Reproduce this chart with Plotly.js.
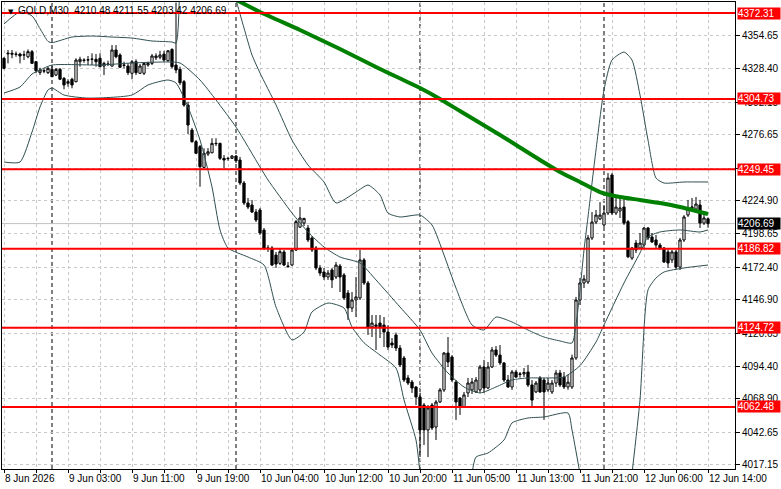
<!DOCTYPE html>
<html><head><meta charset="utf-8">
<script src="https://cdn.plot.ly/plotly-3.0.1.min.js"></script>
<style>html,body{margin:0;padding:0;background:#fff;overflow:hidden}#chart{width:781px;height:489px}</style>
</head><body><div id="chart"></div>
<script>
// ---------- data ----------
const chartTitle = "GOLD,M30  4210.48 4211.55 4203.42 4206.69";
const openP = [4336.7,4340.8,4340.6,4340.0,4340.0,4339.3,4337.9,4341.9,4334.0,4325.4,4326.9,4325.4,4328.0,4323.5,4328.0,4320.9,4317.0,4320.2,4318.3,4334.0,
4335.3,4335.3,4335.9,4335.9,4336.7,4330.6,4332.2,4330.6,4343.2,4339.3,4331.4,4330.6,4324.9,4334.0,4324.9,4324.9,4331.4,4332.7,4337.1,4337.5,
4340.0,4334.8,4343.7,4331.4,4328.0,4318.3,4299.9,4280.3,4271.1,4267.2,4250.9,4261.4,4262.4,4269.8,4269.8,4258.0,4258.0,4258.0,4259.8,4256.7,
4238.6,4222.9,4221.3,4215.8,4217.4,4201.6,4187.5,4187.5,4182.0,4175.4,4184.4,4173.3,4174.1,4185.9,4203.9,4207.1,4203.2,4195.4,4187.5,4171.8,
4168.6,4164.7,4170.2,4164.7,4173.3,4166.3,4152.1,4140.3,4146.6,4148.2,4178.1,4160.0,4125.4,4127.0,4128.5,4126.9,4121.4,4112.8,4119.1,4108.8,
4101.0,4085.3,4082.1,4078.2,4070.3,4064.0,4044.4,4064.0,4046.7,4066.4,4075.9,4104.9,4101.8,4082.1,4069.5,4062.5,4073.5,4075.9,4074.3,4075.9,
4093.9,4077.4,4093.9,4107.3,4103.3,4097.1,4083.7,4078.2,4090.0,4088.0,4088.4,4090.0,4079.8,4074.3,4085.3,4083.7,4075.9,4074.3,4081.3,4089.2,
4086.0,4078.2,4078.2,4101.0,4146.6,4160.0,4160.8,4195.4,4207.9,4210.3,4205.6,4215.0,4244.9,4215.0,4216.6,4219.7,4208.2,4179.6,4191.4,4187.5,
4189.8,4203.2,4196.2,4193.8,4189.8,4187.5,4184.4,4178.1,4184.4,4172.5,4193.8,4213.4,4218.9,4218.1,4221.3,4207.1,4210.48];
const highP = [4337.5,4343.2,4343.2,4341.9,4341.1,4342.6,4343.7,4343.2,4334.5,4329.3,4328.8,4329.8,4331.4,4329.0,4329.0,4322.0,4320.2,4321.4,4336.7,4337.9,
4336.7,4338.5,4340.6,4340.0,4340.6,4334.0,4334.8,4347.1,4347.1,4340.6,4334.0,4332.7,4335.3,4335.9,4332.2,4333.2,4334.0,4340.0,4340.6,4342.6,
4342.6,4343.2,4344.5,4380.5,4330.1,4319.6,4302.5,4281.9,4272.4,4268.5,4265.9,4266.1,4273.8,4273.8,4270.3,4260.6,4259.3,4260.6,4260.6,4259.1,
4240.2,4226.8,4225.3,4218.1,4219.0,4203.2,4189.8,4189.0,4184.4,4187.5,4185.9,4176.5,4187.5,4209.5,4219.7,4211.1,4205.6,4196.9,4189.0,4174.1,
4171.8,4170.2,4171.8,4176.5,4174.9,4167.8,4154.5,4152.9,4164.7,4185.9,4179.6,4161.6,4134.8,4134.8,4134.8,4133.2,4126.9,4116.7,4121.0,4111.2,
4102.6,4087.6,4083.7,4078.8,4073.5,4065.6,4064.0,4065.6,4067.9,4077.4,4105.7,4117.5,4103.3,4083.7,4070.3,4074.3,4085.3,4085.3,4086.0,4095.5,
4099.5,4097.8,4109.6,4110.4,4111.2,4097.8,4087.6,4091.6,4091.6,4090.0,4093.1,4095.5,4083.7,4082.9,4086.8,4085.3,4085.3,4083.7,4091.6,4091.6,
4090.0,4088.0,4103.6,4149.0,4163.9,4166.3,4197.7,4215.8,4217.4,4223.6,4221.3,4246.5,4246.5,4227.6,4227.6,4227.6,4209.5,4188.3,4193.8,4199.3,
4204.0,4204.0,4199.3,4197.7,4191.4,4188.3,4187.5,4185.9,4185.9,4195.4,4213.4,4225.3,4226.8,4227.6,4225.3,4215.0,4211.55];
const lowP = [4328.0,4332.7,4336.7,4337.9,4332.7,4335.3,4336.7,4332.7,4324.9,4323.5,4324.9,4324.3,4322.0,4322.7,4319.6,4312.3,4314.3,4313.1,4317.8,4330.1,
4333.2,4331.4,4331.4,4330.1,4329.6,4323.5,4330.6,4330.1,4336.7,4329.6,4328.8,4323.5,4320.2,4323.5,4324.3,4323.5,4330.1,4331.4,4335.3,4335.9,
4334.0,4334.0,4328.8,4324.9,4315.7,4298.6,4277.1,4270.3,4261.4,4235.7,4250.2,4259.9,4262.0,4267.7,4256.7,4250.2,4256.1,4257.5,4254.3,4237.0,
4221.3,4218.1,4215.0,4207.9,4197.7,4185.9,4184.4,4173.3,4171.8,4174.1,4173.3,4171.8,4173.3,4185.1,4203.2,4204.8,4192.2,4184.4,4170.2,4165.5,
4162.4,4162.4,4156.0,4163.1,4152.9,4146.6,4130.9,4137.2,4133.2,4146.6,4158.4,4119.1,4117.5,4107.3,4116.7,4109.6,4107.3,4108.8,4106.5,4093.9,
4082.1,4079.8,4073.5,4064.0,4023.1,4032.6,4023.1,4044.4,4036.5,4065.6,4074.3,4093.9,4082.1,4052.3,4056.2,4061.7,4070.3,4072.7,4073.5,4073.5,
4073.5,4076.6,4093.1,4101.8,4095.5,4082.1,4077.4,4075.9,4085.3,4085.5,4086.0,4078.2,4061.7,4073.5,4073.5,4052.3,4074.3,4072.7,4078.2,4078.2,
4076.6,4076.0,4076.6,4099.5,4142.7,4156.0,4159.2,4193.8,4206.3,4209.5,4204.0,4213.4,4213.4,4213.4,4211.1,4205.6,4179.6,4178.1,4183.5,4187.5,
4187.5,4193.8,4191.4,4187.5,4185.9,4175.7,4171.8,4175.7,4170.2,4170.2,4192.2,4211.9,4215.8,4215.0,4203.2,4205.6,4203.42];
const closeP = [4328.8,4340.3,4340.0,4339.8,4338.5,4339.4,4341.9,4332.7,4326.9,4327.5,4326.7,4328.8,4322.2,4328.0,4320.2,4315.7,4318.3,4315.7,4335.3,4335.9,
4335.1,4335.5,4336.0,4334.0,4330.1,4332.7,4332.0,4343.2,4337.9,4329.6,4331.2,4325.4,4334.0,4325.4,4330.6,4332.7,4332.7,4338.5,4338.5,4339.3,
4335.3,4342.6,4330.1,4327.5,4317.5,4299.9,4284.2,4271.1,4262.0,4251.4,4262.0,4263.2,4269.8,4269.6,4258.0,4256.7,4257.8,4259.8,4256.1,4238.6,
4222.9,4219.7,4215.8,4209.5,4199.3,4187.3,4187.3,4174.1,4174.9,4184.6,4174.1,4173.0,4185.9,4208.2,4211.1,4210.8,4193.8,4185.9,4171.8,4167.8,
4164.7,4167.8,4162.4,4174.1,4164.7,4148.2,4140.3,4146.6,4149.0,4178.1,4160.0,4125.4,4128.5,4125.9,4125.4,4121.4,4109.6,4111.2,4108.8,4095.5,
4083.7,4081.3,4077.4,4070.3,4044.4,4044.4,4061.7,4046.0,4066.4,4075.9,4104.9,4097.8,4083.7,4066.4,4062.5,4071.9,4081.3,4082.1,4083.7,4093.9,
4077.4,4093.9,4107.3,4103.3,4097.1,4083.7,4078.2,4090.0,4086.0,4088.4,4089.6,4079.8,4067.9,4081.3,4074.3,4074.3,4081.3,4081.3,4089.2,4079.8,
4078.2,4082.0,4101.0,4146.6,4160.0,4163.1,4195.4,4207.9,4213.4,4213.4,4215.0,4242.5,4215.0,4219.7,4219.0,4207.1,4180.6,4187.5,4185.9,4191.4,
4203.2,4195.4,4192.2,4189.8,4187.5,4176.5,4175.7,4184.4,4172.5,4193.8,4211.9,4218.9,4219.7,4222.1,4207.1,4211.1,4206.69];

// indicator samples (bar number -> price)
const maBars   = [56, 64, 74, 84, 94, 104, 109, 114, 124, 134, 139, 144, 149, 154, 159, 164, 169, 174, 176];
const maValues = [4386.0,4373.1,4358.9,4344.0,4328.3,4313.3,4304.7,4295.2,4276.4,4256.7,4247.3,4239.4,4231.5,4227.6,4225.3,4222.9,4219.7,4215.8,4214.2];
const bbUpBars = [0,4,7,9,11,12,17,22,27,32,37,42,43,44,50,57,58,60,62,64,68,72,76,80,83,88,91,94,96,99,104,107,110,113,117,120,123,127,131,135,139,142,143,144,145,146,148,150,152,155,157,159,161,163,165,170,176];
const bbUpper  = [4363.7,4373.1,4370.0,4360.0,4350.0,4349.0,4353.4,4354.2,4353.4,4352.6,4350.3,4349.5,4348.7,4430,null,4392,4382.5,4360.5,4339.3,4325.1,4300.0,4272.4,4252.8,4239.4,4222.9,4231.5,4237.0,4229.2,4215.0,4211.9,4213.4,4205.6,4182.0,4156.0,4127.0,4123.0,4133.2,4129.3,4123.0,4117.5,4114.4,4112.8,4127.0,4154.5,4185.9,4211.9,4264.6,4311.8,4335.3,4341.6,4335.3,4307.8,4272.4,4242.5,4238.6,4239.4,4239.4];
const bbMidBars = [0,4,7,9,12,24,32,41,44,49,53,58,64,66,72,76,80,84,89,93,99,104,107,111,115,119,123,127,131,135,140,144,148,150,155,159,161,164,169,174,176];
const bbMiddle  = [4309.4,4314.1,4324.3,4327.5,4331.4,4331.4,4333.0,4333.8,4333.0,4319.6,4303.9,4282.6,4251.2,4241.0,4215.0,4200.1,4188.3,4180.4,4175.7,4162.4,4141.1,4123.0,4104.9,4089.2,4078.2,4073.5,4078.2,4083.7,4085.3,4085.3,4086.0,4095.0,4113.6,4127.0,4160.0,4183.6,4196.2,4200.1,4201.7,4200.1,4201.7];
const bbLowBars = [0,4,7,9,11,12,15,21,32,36,41,43,46,49,52,54,56,61,65,68,72,75,77,81,85,87,90,94,98,100,103,104,110,117,118,121,125,127,131,135,141,142,144,150,157,159,161,163,165,170,176];
const bbLower   = [4255.1,4255.1,4278.7,4298.4,4311.8,4313.3,4307.8,4305.4,4307.8,4315.7,4319.6,4317.3,4298.4,4272.4,4235.5,4201.7,4187.5,4180.4,4174.1,4141.1,4115.2,4121.4,4137.2,4144.2,4140.3,4125.4,4113.0,4103.3,4093.1,4068.0,4036.5,4010.0,null,4010.0,4023.1,4026.3,4036.5,4049.9,4053.8,4054.6,4057.7,4044.4,4010.0,null,4010.0,4068.0,4154.5,4163.9,4168.6,4171.8,4174.1];

const levelPrices = [4372.31, 4304.73, 4249.45, 4186.82, 4124.72, 4062.48];
const lastPrice = 4206.69;
const priceTicks = [4354.65,4328.40,4302.15,4276.65,4250.40,4224.90,4198.65,4172.40,4146.90,4120.65,4094.40,4068.90,4042.65,4017.15];
const hiddenTicks = [4250.40];   // fully covered by a level label in the picture
const timeTickBars = [0,16,32,48,64,80,96,112,128,144,160,176];
const timeTickText = ["8 Jun 2026","9 Jun 03:00","9 Jun 11:00","9 Jun 19:00","10 Jun 04:00","10 Jun 12:00","10 Jun 20:00","11 Jun 05:00","11 Jun 13:00","11 Jun 21:00","12 Jun 06:00","12 Jun 14:00"];
const sessionDays = ["2026-06-08","2026-06-09","2026-06-10","2026-06-11","2026-06-12"];

// ---------- build M30 bar times (session 01:00-24:00) ----------
function pad(n){return (n<10?"0":"")+n;}
const times = [];
sessionDays.forEach((d,k)=>{
  const startMin = k===0 ? 18*60 : 60;
  const endMin = k===sessionDays.length-1 ? 14*60 : 23*60+30;
  for(let m=startMin;m<=endMin;m+=30){ times.push(d+" "+pad(Math.floor(m/60))+":"+pad(m%60)); }
});
const sepTimes = sessionDays.slice(1).map(d=>d+" 01:00");

const FONT = "Liberation Sans, Arial, sans-serif";
const traces = [];
function lineTrace(bars, vals, color, width){
  return {type:'scatter', mode:'lines', x:bars.map(b=>times[b]), y:vals, line:{color:color,width:width,shape:'spline',smoothing:0.6},
          connectgaps:false, hoverinfo:'skip', showlegend:false};
}
traces.push({type:'candlestick', x:times, open:openP, high:highP, low:lowP, close:closeP,
  increasing:{line:{color:'#000',width:1}, fillcolor:'#ffffff'},
  decreasing:{line:{color:'#000',width:1}, fillcolor:'#000000'},
  whiskerwidth:0, hoverinfo:'skip', showlegend:false});
traces.push(lineTrace(bbUpBars, bbUpper, '#2f4f4f', 1));
traces.push(lineTrace(bbMidBars, bbMiddle, '#2f4f4f', 1));
traces.push(lineTrace(bbLowBars, bbLower, '#2f4f4f', 1));
traces.push(lineTrace(maBars, maValues, '#008000', 4));

const gridBars = [];
for(let b=0;b<times.length;b+=8) gridBars.push(b);
const xTickVals = gridBars.map(b=>times[b]);
const xTickText = gridBars.map(b=>{const k=timeTickBars.indexOf(b);return k>=0?timeTickText[k]:'';});

const shapes = [];
sepTimes.forEach(t=>shapes.push({type:'line', xref:'x', yref:'paper', x0:t, x1:t, y0:0, y1:1, layer:'between',
  line:{color:'#000', width:1, dash:'4px,3px'}}));
shapes.push({type:'line', xref:'paper', yref:'y', x0:0, x1:1, y0:lastPrice, y1:lastPrice, layer:'between', line:{color:'#c0c0c0', width:1}});
levelPrices.forEach(p=>shapes.push({type:'line', xref:'paper', yref:'y', x0:0, x1:1, y0:p, y1:p, layer:'above', line:{color:'#ff0000', width:2}}));

const annotations = [];
levelPrices.forEach(p=>annotations.push({xref:'paper', yref:'y', x:1, y:p, xanchor:'left', yanchor:'middle', xshift:2,
  text:p.toFixed(2), showarrow:false, bgcolor:'#ff0000', font:{family:FONT,size:10,color:'#ffffff'}, width:42, height:11, align:'left', borderpad:0}));
annotations.push({xref:'paper', yref:'y', x:1, y:lastPrice, xanchor:'left', yanchor:'middle', xshift:2,
  text:lastPrice.toFixed(2), showarrow:false, bgcolor:'#000000', font:{family:FONT,size:10,color:'#ffffff'}, width:42, height:11, align:'left', borderpad:0});
annotations.push({xref:'paper', yref:'paper', x:0, y:1, xanchor:'left', yanchor:'top', xshift:4, yshift:-4,
  text:'▼', showarrow:false, font:{family:'DejaVu Sans',size:7,color:'#000'}});
annotations.push({xref:'paper', yref:'paper', x:0, y:1, xanchor:'left', yanchor:'top', xshift:14, yshift:-1,
  text:chartTitle, showarrow:false, font:{family:FONT,size:10,color:'#000'}});

const layout = {
  width:781, height:489, margin:{l:2, r:46, t:2, b:20},
  paper_bgcolor:'#ffffff', plot_bgcolor:'#ffffff', showlegend:false, boxgap:0.2,
  xaxis:{type:'category', range:[-0.5,182.75], rangeslider:{visible:false}, tickmode:'array', tickvals:xTickVals, ticktext:xTickText,
    ticks:'outside', ticklen:3, tickcolor:'#000', ticklabelposition:'outside right', tickangle:0,
    showgrid:true, gridcolor:'#c8c8c8', griddash:'3px,3px', gridwidth:1,
    showline:true, linecolor:'#000', linewidth:1, mirror:true, zeroline:false,
    tickfont:{family:FONT,size:10,color:'#000'}, fixedrange:true},
  yaxis:{side:'right', range:[4013.7,4380.96], tickmode:'array', tickvals:priceTicks,
    ticktext:priceTicks.map(v=>hiddenTicks.indexOf(v)>=0?'':v.toFixed(2)),
    ticks:'outside', ticklen:4, tickcolor:'#000', showgrid:true, gridcolor:'#c8c8c8', griddash:'3px,3px', gridwidth:1,
    showline:true, linecolor:'#000', linewidth:1, mirror:true, zeroline:false,
    tickfont:{family:FONT,size:10,color:'#000'}, fixedrange:true},
  shapes:shapes, annotations:annotations
};
Plotly.newPlot('chart', traces, layout, {staticPlot:true, displayModeBar:false});
</script></body></html>
